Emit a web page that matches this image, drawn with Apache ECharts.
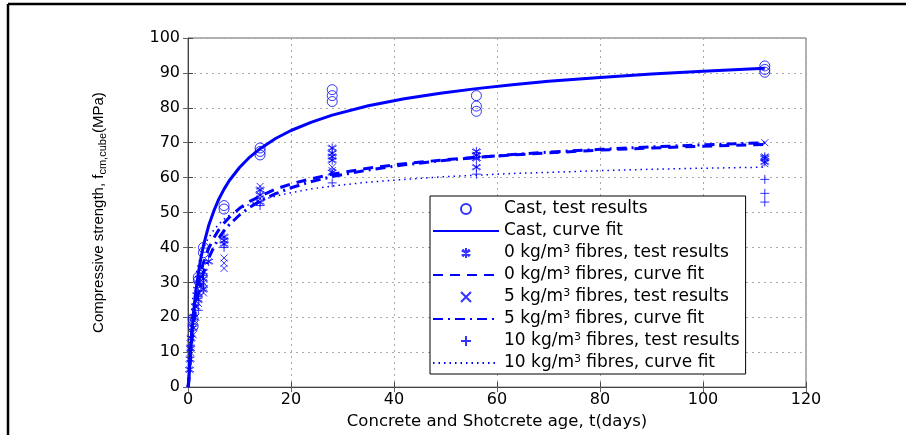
<!DOCTYPE html>
<html><head><meta charset="utf-8">
<script src="https://cdn.jsdelivr.net/npm/echarts@6/dist/echarts.min.js"></script>
<style>html,body{margin:0;padding:0;background:#fff;overflow:hidden}#c{width:906px;height:435px}</style>
</head><body><div id="c"></div>
<script>
// ---- data (t in days, strength in MPa) ----
const seriesNames = [
  'Cast, test results', 'Cast, curve fit',
  '0 kg/m3 fibres, test results', '0 kg/m3 fibres, curve fit',
  '5 kg/m3 fibres, test results', '5 kg/m3 fibres, curve fit',
  '10 kg/m3 fibres, test results', '10 kg/m3 fibres, curve fit'
];
const castTests = [[1,17.5],[1,19.5],[2,30.5],[2,31.5],[3,38.5],[3,40],[7,51],[7,52],[14,66.5],[14,67.5],[14,68.5],
  [28,81.8],[28,83.5],[28,85.2],[56,79],[56,80.5],[56,83.5],[112,90.2],[112,91],[112,92]];
const f0Tests = [[0.3,5],[0.4,8],[0.5,11],[0.6,14],[1,17],[1,20],[1.5,23],[2,25],[2,27],[2.5,29],[3,28],[3,31],[3,33],[4,36],
  [7,41],[7,42],[7,43],[14,53],[14,55],[14,56.5],[28,61.5],[28,65],[28,66],[28,67],[28,68.5],
  [56,63],[56,65.5],[56,66.5],[56,67.5],[112,64.5],[112,65.5],[112,66]];
const f5Tests = [[0.5,10],[1,15],[1.5,20],[2,24],[3,27],[3,30],[7,34],[7,35.5],[7,37],[14,54],[14,57.5],
  [28,62],[28,63],[56,66],[112,64],[112,70]];
const f10Tests = [[0.5,12],[1,18],[2,22],[2,26],[3,29],[3,32],[7,40],[14,52],[28,58.5],[56,61],[112,53],[112,55.5],[112,59.5]];

// curve fits, read at these ages
const fitAges = [0,0.1,0.25,0.5,0.75,1,1.25,1.5,2,2.5,3,4,5,6,7,8,10,12,14,17,20,24,28,35,42,49,56,63,70,80,90,100,112];
const castFit = [0,0.5,3.7,9.9,15.3,19.9,23.8,27.1,32.6,36.9,40.5,46.2,50.4,53.9,56.7,59.1,62.9,65.9,68.3,71.2,73.5,75.9,77.9,80.6,82.6,84.2,85.5,86.6,87.6,88.7,89.7,90.5,91.3];
const f0Fit   = [0,1.0,5.0,11.2,16.1,19.9,23.0,25.6,29.8,33.1,35.7,39.7,42.7,45.1,47.0,48.6,51.2,53.2,54.7,56.7,58.2,59.7,61.0,62.7,64.0,65.0,65.8,66.5,67.1,67.9,68.5,69.0,69.5];
const f5Fit   = [0,0.6,3.5,8.7,13.1,16.8,19.8,22.4,26.6,30.0,32.7,36.9,40.1,42.7,44.8,46.5,49.3,51.5,53.3,55.4,57.1,58.9,60.3,62.2,63.7,64.8,65.8,66.6,67.3,68.1,68.8,69.4,70.0];
const f10Fit  = [0,3.4,10.3,17.9,23.0,26.6,29.4,31.7,35.2,37.8,39.8,42.8,45.0,46.7,48.1,49.2,51.0,52.4,53.5,54.7,55.7,56.8,57.6,58.7,59.5,60.2,60.7,61.2,61.5,62.0,62.4,62.7,63.0];

const BLUE = '#0000ff';
const FONT = 'DejaVu Sans, Verdana, sans-serif';
const FONT2 = 'Liberation Sans, Arial, sans-serif';
const asterisk = 'path://M0,-1L0,1M-0.87,-0.5L0.87,0.5M-0.87,0.5L0.87,-0.5M-0.7,-0.7L0.7,0.7M-0.7,0.7L0.7,-0.7';
const cross = 'path://M-1,-1L1,1M-1,1L1,-1';
const plus = 'path://M0,-1L0,1M-1,0L1,0';

function pairs(xs, ys) { return xs.map((x, i) => [x, ys[i]]); }
function scatter(name, data, symbol, size) {
  return { name, type: 'scatter', data, symbol, symbolSize: size, z: 3,
    itemStyle: { color: 'rgba(0,0,0,0)', borderColor: BLUE, borderWidth: 1 } };
}
function line(name, ys, width, type) {
  return { name, type: 'line', data: pairs(fitAges, ys), smooth: false, symbol: 'none', z: 2,
    lineStyle: { color: BLUE, width, type }, itemStyle: { color: BLUE } };
}

const chart = echarts.init(document.getElementById('c'), null, { renderer: 'canvas', width: 906, height: 435 });
const gridSplit = { show: true, lineStyle: { color: '#aaa', type: [2, 4], width: 1 } };
chart.setOption({
  animation: false,
  backgroundColor: '#fff',
  textStyle: { fontFamily: FONT },
  grid: { left: 188, top: 38, width: 618, height: 357, show: true, borderColor: '#666', borderWidth: 1, backgroundColor: '#fff' },
  xAxis: [{
    type: 'value', min: 0, max: 120, interval: 20,
    name: 'Concrete and Shotcrete age, t(days)', nameLocation: 'middle', nameGap: 20,
    nameTextStyle: { fontSize: 16.5, color: '#000', fontFamily: FONT },
    axisLine: { lineStyle: { color: '#444', width: 1 } },
    axisTick: { inside: true, length: 5, lineStyle: { color: '#444' } },
    axisLabel: { fontSize: 16, color: '#000', margin: 5, fontFamily: FONT },
    splitLine: gridSplit
  }, {
    type: 'value', min: 0, max: 120, interval: 20, position: 'top',
    axisLine: { show: false }, axisTick: { inside: true, length: 5, lineStyle: { color: '#666' } },
    axisLabel: { show: false }, splitLine: { show: false }
  }],
  yAxis: [{
    type: 'value', min: 0, max: 100, interval: 10,
    name: 'Compressive strength, f{sub|cm,cube}(MPa)', nameLocation: 'middle', nameGap: 82, nameRotate: 90,
    nameTextStyle: { fontSize: 15, color: '#000', fontFamily: FONT2,
      rich: { sub: { fontSize: 11, color: '#000', fontFamily: FONT2, padding: [0, 0, -9, 0] } } },
    axisLine: { show: true, lineStyle: { color: '#444', width: 1 } },
    axisTick: { show: true, inside: true, length: 5, lineStyle: { color: '#444' } },
    axisLabel: { fontSize: 16, color: '#000', margin: 8, fontFamily: FONT },
    splitLine: gridSplit
  }, {
    type: 'value', min: 0, max: 100, interval: 10, position: 'right',
    axisLine: { show: false }, axisTick: { show: true, inside: true, length: 5, lineStyle: { color: '#666' } },
    axisLabel: { show: false }, splitLine: { show: false }
  }],
  legend: {
    orient: 'vertical', left: 430, top: 196,
    padding: [3, 6, 1, 2], itemGap: 2, itemWidth: 66, itemHeight: 10,
    backgroundColor: '#fff', borderColor: '#000', borderWidth: 1,
    data: seriesNames.map((n, i) => i % 2 ? { name: n, itemStyle: { opacity: 0 } } : { name: n }),
    formatter: (n) => n.replace('m3', 'm{sup|3}'),
    textStyle: { fontSize: 17, color: '#000', fontFamily: FONT, lineHeight: 20,
      rich: { sup: { fontSize: 11, color: '#000', fontFamily: FONT, padding: [0, 0, 8, 0] } } }
  },
  graphic: [
    { type: 'line', shape: { x1: 8, y1: 4, x2: 8, y2: 435 }, style: { stroke: '#000', lineWidth: 2.5 }, silent: true },
    { type: 'line', shape: { x1: 8, y1: 4, x2: 906, y2: 4 }, style: { stroke: '#000', lineWidth: 2.5 }, silent: true }
  ],
  series: [
    scatter(seriesNames[0], castTests, 'circle', 10),
    line(seriesNames[1], castFit, 3, 'solid'),
    scatter(seriesNames[2], f0Tests, asterisk, 9),
    line(seriesNames[3], f0Fit, 3, [10, 7]),
    scatter(seriesNames[4], f5Tests, cross, 7),
    line(seriesNames[5], f5Fit, 3, [10, 5, 2, 5]),
    scatter(seriesNames[6], f10Tests, plus, 9),
    line(seriesNames[7], f10Fit, 1.5, [1.5, 4])
  ]
});
</script></body></html>
